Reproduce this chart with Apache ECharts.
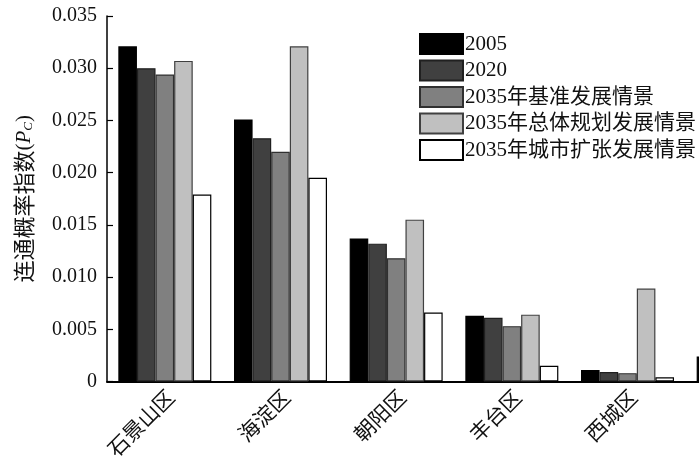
<!DOCTYPE html>
<html>
<head>
<meta charset="utf-8">
<script src="https://cdn.jsdelivr.net/npm/echarts@6/dist/echarts.min.js"></script>
<style>
  html, body { margin: 0; padding: 0; background: #fff; }
  #chart { width: 699px; height: 459px; }
</style>
</head>
<body>
<div id="chart"></div>
<script>
// 区县 (last one is cut off by the right edge in the original)
var districts = ['石景山区', '海淀区', '朝阳区', '丰台区', '西城区', '东城区'];
var seriesNames = ['2005', '2020', '2035年基准发展情景', '2035年总体规划发展情景', '2035年城市扩张发展情景'];

var v2005 = [0.0321, 0.0251, 0.0137, 0.0063, 0.0011, 0.0024];
var v2020 = [0.0300, 0.0233, 0.0132, 0.0061, 0.0009, 0.0022];
var vBase = [0.0294, 0.0220, 0.0118, 0.0053, 0.0008, 0.0021];
var vPlan = [0.0307, 0.0321, 0.0155, 0.0064, 0.0089, 0.0060];
var vSprawl = [0.0179, 0.0195, 0.0066, 0.0015, 0.0004, 0.0003];

var yTicks = [0, 0.005, 0.010, 0.015, 0.020, 0.025, 0.030, 0.035];

var fills = ['#000000', '#404040', '#808080', '#c0c0c0', '#ffffff'];
var edges = ['#000000', '#202020', '#303030', '#404040', '#000000'];
var allValues = [v2005, v2020, vBase, vPlan, vSprawl];

var serif = '"Liberation Serif", "Noto Sans CJK SC", serif';

var myChart = echarts.init(document.getElementById('chart'));

var series = seriesNames.map(function (name, i) {
  return {
    name: name,
    type: 'bar',
    data: allValues[i],
    barGap: '0%',
    barCategoryGap: '19.6%',
    itemStyle: { color: fills[i], borderColor: edges[i], borderWidth: 1.2 },
    emphasis: { disabled: true }
  };
});

var option = {
  animation: false,
  backgroundColor: '#fff',
  textStyle: { fontFamily: serif },
  legend: {
    orient: 'vertical',
    left: 414,
    top: 28,
    itemWidth: 43,
    itemHeight: 20,
    itemGap: 4.5,
    icon: 'rect',
    textStyle: { fontFamily: serif, fontSize: 21, lineHeight: 20, color: '#111', padding: [0, 0, 0, -3] },
    data: seriesNames
  },
  // wider than the canvas: the 6th district is cut off like in the original
  grid: { left: 107, top: 16, bottom: 77.5, width: 694, outerBoundsMode: 'none', containLabel: false },
  xAxis: {
    type: 'category',
    data: districts,
    axisLine: { lineStyle: { color: '#000', width: 2 } },
    axisTick: { inside: true, alignWithLabel: true, length: 11, lineStyle: { color: '#000', width: 1.2 } },
    axisLabel: {
      rotate: 45, fontSize: 21, color: '#111', margin: 6, fontFamily: serif,
      verticalAlign: 'top',
      // the last district's label lies outside the cropped picture
      interval: function (index) { return index < 5; }
    }
  },
  yAxis: {
    type: 'value',
    min: yTicks[0],
    max: yTicks[yTicks.length - 1],
    interval: 0.005,
    splitLine: { show: false },
    axisLine: { show: true, lineStyle: { color: '#000', width: 1.5 } },
    axisTick: { show: true, inside: true, length: 6, lineStyle: { color: '#000', width: 1.2 } },
    axisLabel: {
      fontSize: 20, color: '#111', margin: 10, fontFamily: serif,
      formatter: function (v) { return v === 0 ? '0' : v.toFixed(3); }
    },
    name: '{c|连通概率指数}{p|(}{i|P}{s|C}{p|)}',
    nameLocation: 'middle',
    nameGap: 72,
    nameTextStyle: {
      rich: {
        c: { fontFamily: '"Noto Sans CJK SC", sans-serif', fontSize: 22, color: '#111' },
        p: { fontFamily: serif, fontSize: 21, color: '#111' },
        i: { fontFamily: serif, fontSize: 21, fontStyle: 'italic', color: '#111' },
        s: { fontFamily: serif, fontSize: 13, fontStyle: 'italic', color: '#111', verticalAlign: 'bottom', padding: [8, 0, 0, 0] }
      }
    }
  },
  series: series
};

myChart.setOption(option);
</script>
</body>
</html>
